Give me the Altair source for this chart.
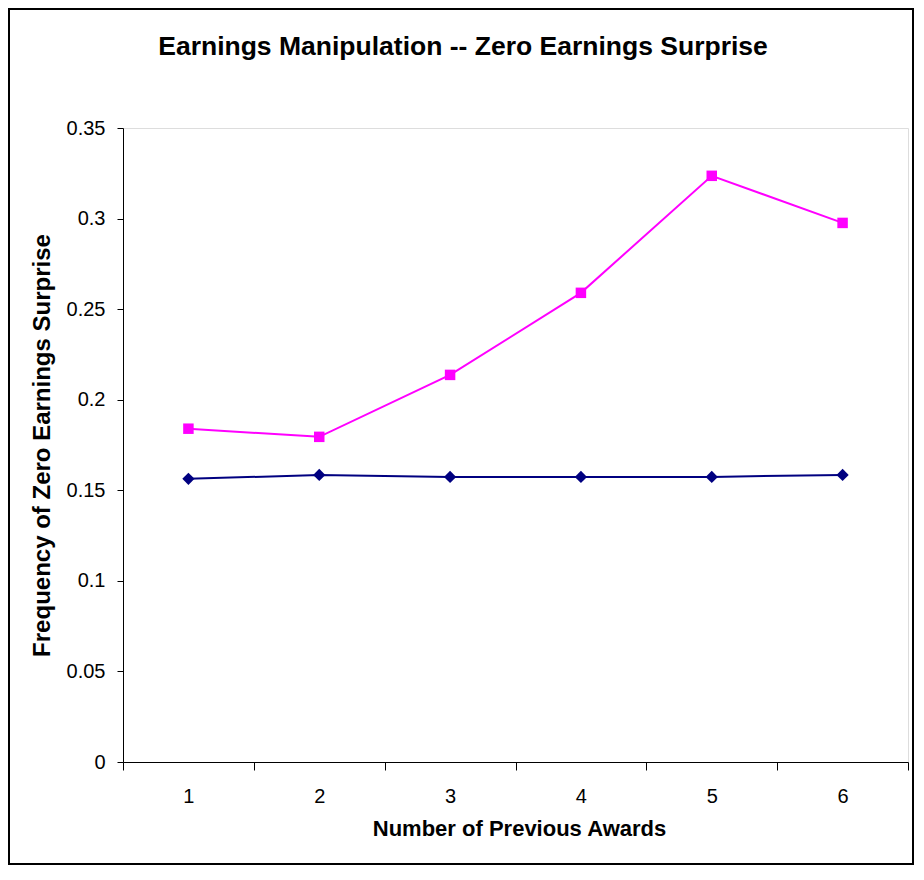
import altair as alt
import pandas as pd

awards = [1, 2, 3, 4, 5, 6]
award_winners = [0.184, 0.1795, 0.2137, 0.259, 0.3236, 0.2976]
benchmark = [0.1563, 0.1585, 0.1574, 0.1574, 0.1574, 0.1585]
y_ticks = [0, 0.05, 0.1, 0.15, 0.2, 0.25, 0.3, 0.35]
title_text = "Earnings Manipulation -- Zero Earnings Surprise"

df = pd.DataFrame({
    "awards": [str(a) for a in awards] * 2,
    "value": award_winners + benchmark,
    "series": ["Award"] * 6 + ["Benchmark"] * 6,
})

FONT = "Liberation Sans"

x_enc = alt.X(
    "awards:O",
    sort=[str(a) for a in awards],
    bandPosition=0.5,
    scale=alt.Scale(type="band", paddingInner=0, paddingOuter=0),
    axis=alt.Axis(
        title="Number of Previous Awards",
        tickBand="extent",
        labelAngle=0,
        labelFont=FONT, labelFontSize=20, labelColor="black",
        labelPadding=16, tickSize=8, tickColor="black", domainColor="black",
        titleFont=FONT, titleFontSize=22, titleFontWeight="bold", titleColor="black",
        titleX=396, titleY=73, titleBaseline="alphabetic", titleAnchor="middle",
        grid=False,
    ),
)
y_enc = alt.Y(
    "value:Q",
    scale=alt.Scale(domain=[0, 0.35], nice=False, zero=True),
    axis=alt.Axis(
        title="Frequency of Zero Earnings Surprise",
        values=y_ticks, format=".2~f",
        labelFont=FONT, labelFontSize=20, labelColor="black",
        labelPadding=12, tickSize=6, tickColor="black", domainColor="black",
        titleFont=FONT, titleFontSize=24, titleFontWeight="bold", titleColor="black",
        titleX=-74, titleY=317, titleBaseline="alphabetic", titleAngle=-90,
        grid=False,
    ),
)

def series_layers(name, color, shape, size):
    base = alt.Chart(df).transform_filter(alt.datum.series == name).encode(x=x_enc, y=y_enc)
    line = base.mark_line(color=color, strokeWidth=2)
    pts = base.mark_point(color=color, filled=True, opacity=1, shape=shape, size=size)
    return [line, pts]

frame = alt.Chart(df).mark_rect(fill=None, stroke="black", strokeWidth=2).encode(
    x=alt.value(-114), x2=alt.value(790), y=alt.value(-119), y2=alt.value(736)
)

title = alt.Chart(pd.DataFrame({"t": [title_text]})).mark_text(
    font=FONT, fontSize=26.5, fontWeight="bold", color="black",
    align="center", baseline="alphabetic",
).encode(text="t:N", x=alt.value(340), y=alt.value(-73))

layers = [frame, title] + series_layers("Award", "#FF00FF", "square", 110) + series_layers("Benchmark", "#000080", "diamond", 150)

chart = alt.layer(*layers).properties(
    width=785, height=634,
    autosize=alt.AutoSizeParams(type="none"),
    padding={"left": 115, "top": 120, "right": 6, "bottom": 104},
).configure_view(strokeWidth=0).configure(background="white")

chart.save("out.html", embed_options={"renderer": "svg", "actions": False})
